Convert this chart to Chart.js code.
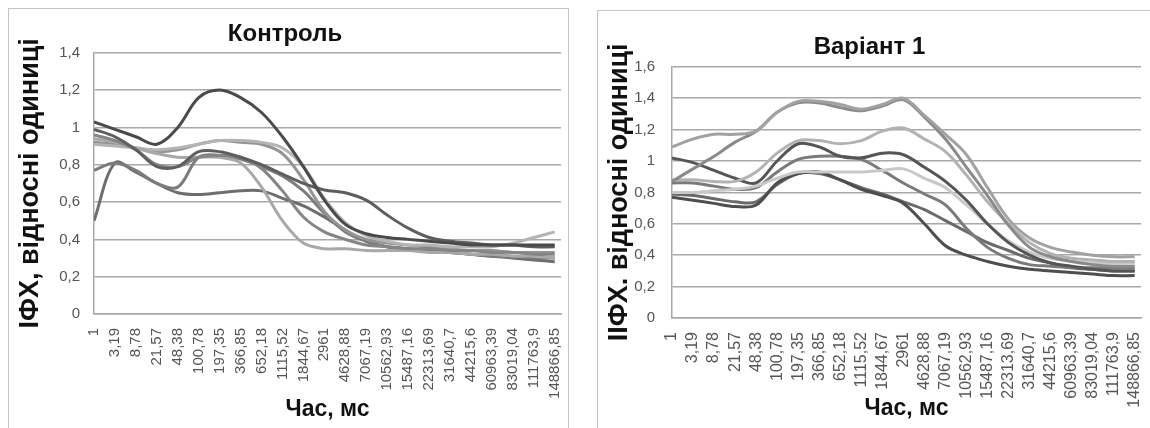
<!DOCTYPE html>
<html>
<head>
<meta charset="utf-8">
<script src="https://cdn.jsdelivr.net/npm/chart.js@4.4.1/dist/chart.umd.min.js"></script>
<style>
body{margin:0;width:1150px;height:428px;overflow:hidden;background:#fff;}
.frame{position:absolute;border:1px solid #c4c4c4;overflow:hidden;background:#fff;}
#f1{left:8px;top:8px;width:559px;height:440px;}
#f2{left:597px;top:10px;width:560px;height:440px;}
canvas{position:absolute;left:0;top:0;}
</style>
</head>
<body>
<div class="frame" id="f1"><canvas id="ctrlChart" width="559" height="419"></canvas></div>
<div class="frame" id="f2"><canvas id="varChart" width="552" height="417"></canvas></div>
<script>
// час, мс (підписи осі X)
var timeLabels = ["1", "3,19", "8,78", "21,57", "48,38", "100,78", "197,35", "366,85", "652,18", "1115,52",
	"1844,67", "2961", "4628,88", "7067,19", "10562,93", "15487,16", "22313,69", "31640,7", "44215,6",
	"60963,39", "83019,04", "111763,9", "148866,85"];

// Контроль
var ctrl1 = [1.03, 0.99, 0.95, 0.91, 1.00, 1.16, 1.20, 1.16, 1.08, 0.95, 0.79, 0.61, 0.48, 0.43, 0.41, 0.40, 0.39, 0.38, 0.37, 0.37, 0.37, 0.37, 0.37];
var ctrl2 = [0.99, 0.95, 0.88, 0.79, 0.79, 0.87, 0.87, 0.84, 0.80, 0.75, 0.70, 0.665, 0.65, 0.61, 0.53, 0.46, 0.41, 0.39, 0.38, 0.37, 0.37, 0.36, 0.36];
var ctrl3 = [0.96, 0.93, 0.88, 0.80, 0.79, 0.84, 0.85, 0.84, 0.78, 0.66, 0.52, 0.44, 0.40, 0.37, 0.36, 0.35, 0.35, 0.34, 0.34, 0.33, 0.33, 0.32, 0.32];
var ctrl4 = [0.94, 0.92, 0.89, 0.86, 0.84, 0.84, 0.84, 0.81, 0.68, 0.50, 0.38, 0.35, 0.35, 0.34, 0.34, 0.34, 0.33, 0.33, 0.32, 0.32, 0.31, 0.31, 0.30];
var ctrl5 = [0.91, 0.90, 0.89, 0.88, 0.89, 0.91, 0.93, 0.93, 0.92, 0.89, 0.79, 0.62, 0.49, 0.42, 0.39, 0.37, 0.37, 0.36, 0.36, 0.36, 0.38, 0.41, 0.44];
var ctrl6 = [0.92, 0.91, 0.89, 0.87, 0.88, 0.91, 0.93, 0.92, 0.91, 0.86, 0.72, 0.55, 0.45, 0.40, 0.38, 0.37, 0.36, 0.35, 0.34, 0.34, 0.33, 0.33, 0.33];
var ctrl7 = [0.77, 0.81, 0.77, 0.70, 0.68, 0.84, 0.85, 0.83, 0.79, 0.74, 0.66, 0.54, 0.44, 0.39, 0.36, 0.35, 0.34, 0.33, 0.32, 0.31, 0.31, 0.30, 0.30];
var ctrl8 = [0.50, 0.81, 0.76, 0.70, 0.65, 0.64, 0.65, 0.66, 0.66, 0.62, 0.58, 0.52, 0.45, 0.39, 0.36, 0.35, 0.34, 0.33, 0.32, 0.31, 0.30, 0.29, 0.28];

// Варіант 1
var var1 = [1.09, 1.14, 1.17, 1.17, 1.19, 1.31, 1.38, 1.38, 1.36, 1.33, 1.36, 1.40, 1.29, 1.17, 1.04, 0.83, 0.63, 0.51, 0.45, 0.42, 0.40, 0.39, 0.39];
var var2 = [0.87, 0.95, 1.03, 1.12, 1.19, 1.31, 1.37, 1.37, 1.34, 1.32, 1.35, 1.39, 1.28, 1.14, 0.96, 0.78, 0.59, 0.45, 0.39, 0.36, 0.34, 0.33, 0.33];
var var3 = [0.88, 0.88, 0.87, 0.87, 0.93, 1.05, 1.13, 1.13, 1.11, 1.13, 1.19, 1.21, 1.14, 1.06, 0.91, 0.74, 0.60, 0.48, 0.41, 0.38, 0.37, 0.36, 0.36];
var var4 = [1.02, 0.99, 0.94, 0.89, 0.86, 1.00, 1.11, 1.09, 1.03, 1.02, 1.05, 1.04, 0.96, 0.87, 0.75, 0.60, 0.48, 0.40, 0.35, 0.33, 0.31, 0.30, 0.30];
var var5 = [0.80, 0.80, 0.81, 0.82, 0.84, 0.89, 0.93, 0.93, 0.93, 0.93, 0.94, 0.95, 0.89, 0.83, 0.72, 0.60, 0.49, 0.42, 0.38, 0.36, 0.35, 0.35, 0.35];
var var6 = [0.86, 0.86, 0.84, 0.82, 0.83, 0.93, 1.01, 1.03, 1.03, 1.01, 0.94, 0.86, 0.79, 0.72, 0.57, 0.45, 0.38, 0.34, 0.33, 0.32, 0.32, 0.32, 0.32];
var var7 = [0.77, 0.75, 0.73, 0.71, 0.72, 0.86, 0.92, 0.93, 0.88, 0.82, 0.78, 0.73, 0.60, 0.46, 0.40, 0.36, 0.33, 0.31, 0.30, 0.29, 0.28, 0.27, 0.27];
var var8 = [0.79, 0.78, 0.76, 0.74, 0.74, 0.85, 0.92, 0.92, 0.88, 0.83, 0.79, 0.74, 0.69, 0.62, 0.55, 0.48, 0.43, 0.38, 0.35, 0.32, 0.31, 0.30, 0.30];

var ctrlShades = ["#4a4a4a", "#5e5e5e", "#858585", "#a8a8a8", "#b4b4b4", "#949494", "#7c7c7c", "#6e6e6e"];
var varShades = ["#a2a2a2", "#8a8a8a", "#b2b2b2", "#555555", "#c8c8c8", "#7a7a7a", "#4e4e4e", "#6a6a6a"];

var FONT = "'Liberation Sans', Arial, sans-serif";
var GRID = "#a8a8a8";

function numFmt(v){
	return String(Math.round(v * 10) / 10).replace('.', ',');
}

function timeFmt(v){
	var i = Math.round(v);
	if (Math.abs(v - i) > 1e-6) return '';
	return timeLabels[i] || '';
}

function buildChart(id, series, shades, o){
	var ctx = document.getElementById(id).getContext("2d");
	return new Chart(ctx, {
		type: 'line',
		data: {
			datasets: series.map(function(s, i){
				return {
					data: s.map(function(v, k){ return {x: k, y: v}; }),
					borderColor: shades[i], borderWidth: 3, pointRadius: 0, tension: 0.35, fill: false
				};
			})
		},
		options: {
			responsive: false,
			animation: false,
			layout: {padding: {left: 0, right: o.padRight, top: 0, bottom: 0}},
			plugins: {
				legend: {display: false},
				tooltip: {enabled: false},
				title: {
					display: true, text: o.title, color: "#111",
					font: {family: FONT, size: 24, weight: 'bold'},
					padding: {top: o.titleTop, bottom: o.titleBottom}
				}
			},
			scales: {
				x: {
					type: 'linear', min: 0, max: 22.3, offset: false,
					grid: {display: false, drawTicks: false},
					border: {display: true, color: GRID, width: 1.5},
					ticks: {stepSize: 1, includeBounds: false, autoSkip: false, maxRotation: 90, minRotation: 90,
						padding: 14, color: "#555", font: {family: FONT, size: o.xTickSize}, callback: timeFmt},
					title: {display: true, text: "Час, мс", color: "#111",
						font: {family: FONT, size: 23, weight: 'bold'}, padding: {top: 0, bottom: o.xTitleBottom}},
					afterFit: function(s){ s.height = o.xHeight; s.paddingLeft = 0; s.paddingRight = 0; }
				},
				y: {
					min: 0, max: o.yMax,
					ticks: {stepSize: 0.2, padding: o.yTickPad, color: "#555", font: {family: FONT, size: 15}, callback: numFmt},
					grid: {color: GRID, lineWidth: 1.5, drawTicks: false},
					border: {display: true, color: GRID, width: 1.5},
					title: {display: true, text: o.yTitle, color: "#111",
						font: {family: FONT, size: 27, weight: 'bold'}, padding: {top: 5, bottom: 0}},
					afterFit: function(s){ s.width = o.yWidth; }
				}
			}
		}
	});
}

var ctrlChart = buildChart("ctrlChart", [ctrl1, ctrl2, ctrl3, ctrl4, ctrl5, ctrl6, ctrl7, ctrl8], ctrlShades, {
	title: "Контроль", yTitle: "ІФХ, відносні одиниці", yMax: 1.4,
	padRight: 7, titleTop: 11, titleBottom: 4, xHeight: 114, xTitleBottom: 5,
	yWidth: 85, yTickPad: 14, xTickSize: 15
});

var varChart = buildChart("varChart", [var1, var2, var3, var4, var5, var6, var7, var8], varShades, {
	title: "Варіант 1", yTitle: "ІІФХ. відносні одиниці", yMax: 1.6,
	padRight: 9, titleTop: 22, titleBottom: 5, xHeight: 110, xTitleBottom: 6,
	yWidth: 74, yTickPad: 17, xTickSize: 16
});
</script>
</body>
</html>
